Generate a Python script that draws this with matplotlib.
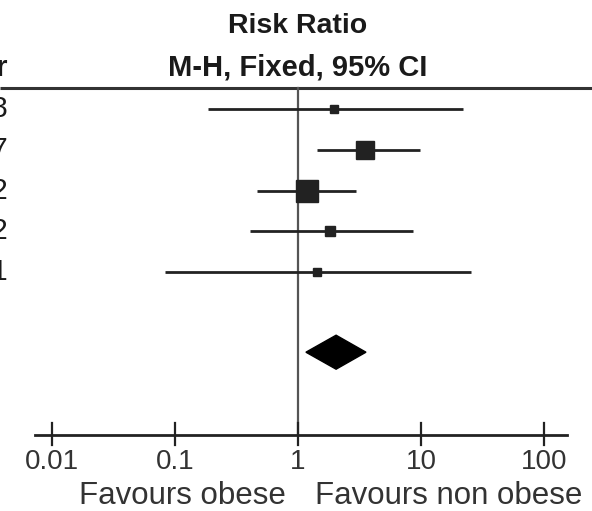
import numpy as np
import matplotlib.pyplot as plt
from matplotlib.patches import Polygon

# study rows (years column is mostly off the left margin)
years = ['2003', '2007', '2002', '2002', '2001']
rr = [1.96, 3.50, 1.18, 1.82, 1.43]
ci_low = [0.185, 1.43, 0.46, 0.41, 0.083]
ci_high = [21.9, 9.8, 2.96, 8.6, 25.5]
weights = [6.5, 31.0, 49.0, 8.5, 5.0]

# pooled estimate
total_rr = 2.04
total_low = 1.16
total_high = 3.57

ticks = [0.01, 0.1, 1, 10, 100]
tick_labels = ['0.01', '0.1', '1', '10', '100']

plt.rcParams['font.family'] = ['Liberation Sans', 'DejaVu Sans']

W, H = 592, 511
fig = plt.figure(figsize=(W / 100, H / 100), dpi=100)
ax = fig.add_axes([0, 0, 1, 1])
ax.set_xscale('log')

# pixel layout of the log axis: 1 sits at x=298, one decade = 123 px
x_one, decade = 298.0, 123.0


def px(x):
    return 10 ** ((x - x_one) / decade)


ax.set_xlim(px(0), px(W))
ax.set_ylim(H, 0)
ax.axis('off')

ink = '#1a1a1a'
row_y0, row_gap = 109, 40.8
axis_y = 435

# header
ax.text(1, 26, 'Risk Ratio', ha='center', va='center', fontsize=20.5,
        fontweight='bold', color=ink)
ax.text(1, 68, 'M-H, Fixed, 95% CI', ha='center', va='center', fontsize=21,
        fontweight='bold', color=ink)
ax.text(px(8), 68, 'Year', ha='right', va='center',
        fontsize=21, fontweight='bold', color=ink)
ax.plot(ax.get_xlim(), [88, 88], color='#333333', lw=2.2, solid_capstyle='butt')

# line of no effect
ax.plot([1, 1], [88, axis_y], color='#555555', lw=1.6)

for i, (y_lab, m, lo, hi, w) in enumerate(zip(years, rr, ci_low, ci_high, weights)):
    y = row_y0 + i * row_gap
    ax.plot([lo, hi], [y, y], color='#222222', lw=2.0, solid_capstyle='butt')
    side = 3.2 * np.sqrt(w) * 72 / 100
    ax.plot(m, y, marker='s', ms=side, color='#222222', mec='#222222')
    ax.text(px(8), y, y_lab, ha='right', va='center', fontsize=21, color=ink)

# pooled diamond
dy = 17
dia_y = row_y0 + 4 * row_gap + 80
diamond = Polygon([[total_low, dia_y], [total_rr, dia_y - dy],
                   [total_high, dia_y], [total_rr, dia_y + dy]],
                  closed=True, facecolor='black', edgecolor='black')
ax.add_patch(diamond)

# x axis with ticks crossing the line
ax.plot([px(35), px(567)], [axis_y, axis_y], color='#222222', lw=2.0)
for t, lab in zip(ticks, tick_labels):
    ax.plot([t, t], [axis_y - 12, axis_y + 10], color='#222222', lw=1.6)
    ax.text(t, 462, lab, ha='center', va='center', fontsize=20, color='#333333')

ax.text(px(182.5), 496, 'Favours obese', ha='center',
        va='center', fontsize=22.5, color='#333333')
ax.text(px(448.5), 496, 'Favours non obese', ha='center',
        va='center', fontsize=22.5, color='#333333')

fig.savefig('out.png', dpi=100, facecolor='white')
